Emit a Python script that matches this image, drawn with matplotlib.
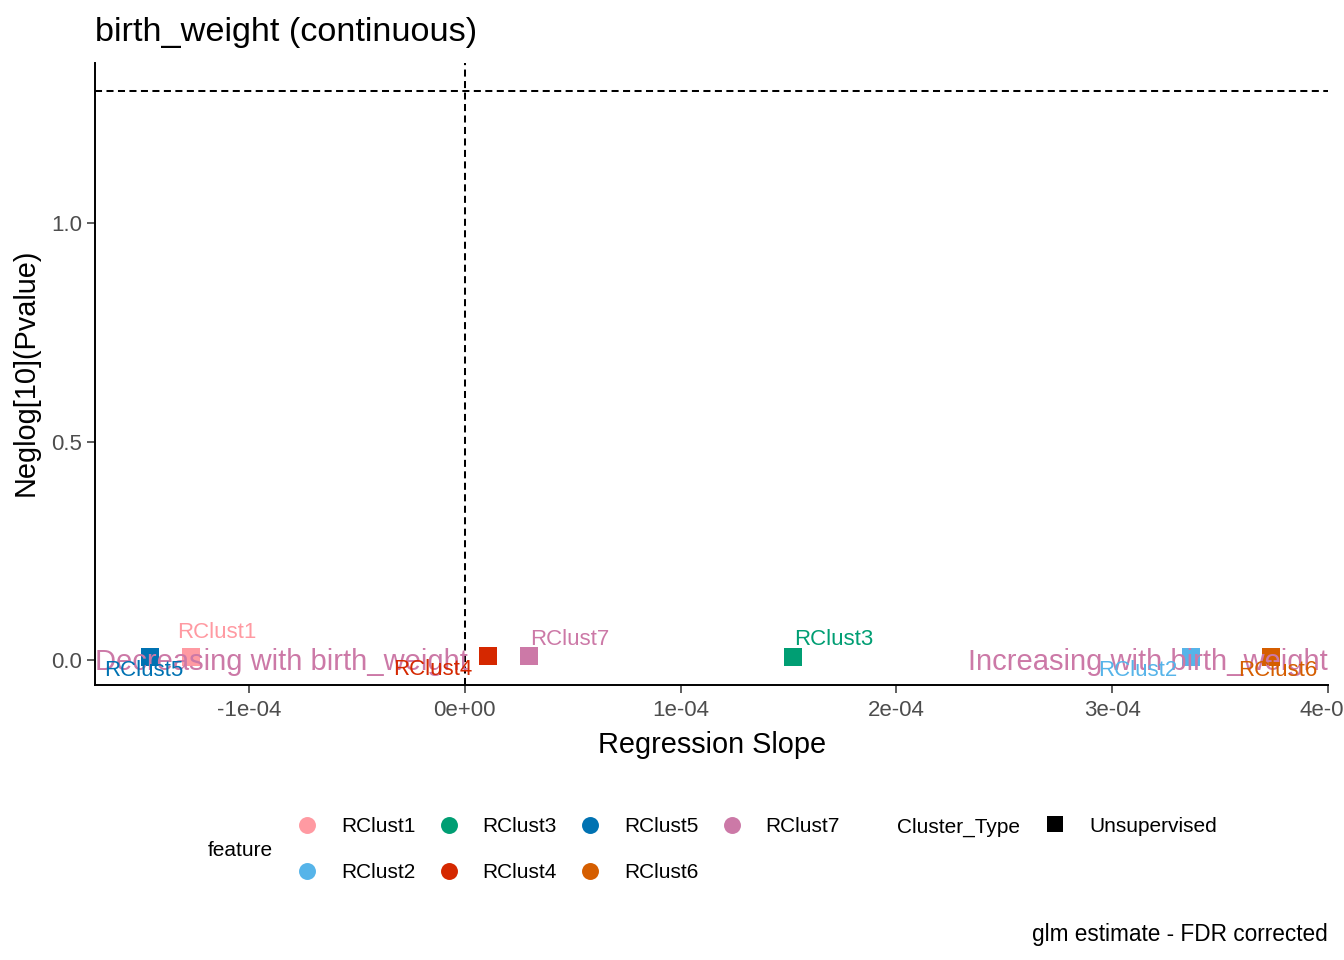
import numpy as np
import matplotlib
matplotlib.use('Agg')
import matplotlib.pyplot as plt
from matplotlib.lines import Line2D

plt.rcParams['font.family'] = ['Liberation Sans', 'DejaVu Sans']

# data
features = ['RClust1', 'RClust2', 'RClust3', 'RClust4', 'RClust5', 'RClust6', 'RClust7']
slopes = [-1.268e-4, 3.366e-4, 1.523e-4, 0.106e-4, -1.458e-4, 3.736e-4, 0.30e-4]
neglogp = [0.007, 0.007, 0.008, 0.009, 0.006, 0.007, 0.009]
colours = ['#FF9AA2', '#56B4E9', '#009E73', '#D52800', '#0072B2', '#D55E00', '#CC79A7']
# repel label offsets (pixels)
label_dx = [26, -53, 40, -55, -6, 7, 40]
label_dy = [-25, 13, -17, 13, 13, 13, -17]

xticks = [-1e-4, 0, 1e-4, 2e-4, 3e-4, 4e-4]
xticklabels = ['-1e-04', '0e+00', '1e-04', '2e-04', '3e-04', '4e-04']
yticks = [0.0, 0.5, 1.0]
yticklabels = ['0.0', '0.5', '1.0']
cutoff = -np.log10(0.05)

W, H = 1344, 960
fig = plt.figure(figsize=(W / 100, H / 100), dpi=100)
ax = fig.add_axes([95 / W, 1 - 685 / H, (1328 - 95) / W, (685 - 63) / H])

def px(x, y):
    return x / W, 1 - y / H

ax.axvline(0, color='black', lw=1.45, dashes=(3.5, 2.2), zorder=1)
ax.axhline(cutoff, color='black', lw=1.45, dashes=(3.5, 2.2), zorder=1)

for f, xv, yv, c in zip(features, slopes, neglogp, colours):
    ax.plot(xv, yv, marker='s', ms=13, color=c, mew=0, ls='none', zorder=3)

trans = ax.get_yaxis_transform()
ax.text(0.0, -0.004, 'Decreasing with birth_weight', transform=trans, ha='left', va='center',
        fontsize=21.0, color='#CC79A7', zorder=4)
ax.text(1.0, -0.004, 'Increasing with birth_weight', transform=trans, ha='right', va='center',
        fontsize=21.0, color='#CC79A7', zorder=4)

for f, xv, yv, c, dx, dy in zip(features, slopes, neglogp, colours, label_dx, label_dy):
    ax.annotate(f, (xv, yv), xytext=(dx * 0.72, -dy * 0.72), textcoords='offset points',
                ha='center', va='center', fontsize=16, color=c, zorder=5)

ax.set_xlim(-1.713e-4, 3.995e-4)
ax.set_ylim(-0.057, 1.366)
ax.set_xticks(xticks)
ax.set_xticklabels(xticklabels)
ax.set_yticks(yticks)
ax.set_yticklabels(yticklabels)
ax.tick_params(axis='both', length=6, width=1.1, color='#333333', labelsize=16,
               labelcolor='#4D4D4D')
ax.tick_params(axis='x', pad=5)
ax.tick_params(axis='y', pad=3)
for s in ['top', 'right']:
    ax.spines[s].set_visible(False)
for s in ['left', 'bottom']:
    ax.spines[s].set_linewidth(1.4)
    ax.spines[s].set_color('black')

fig.text(*px(95, 41), 'birth_weight (continuous)', fontsize=24.7, ha='left', va='baseline')
fig.text(*px(712, 745), 'Regression Slope', fontsize=20.8, ha='center', va='center')
fig.text(*px(26, 372), 'Neglog[10](Pvalue)', fontsize=20.8, ha='center', va='center',
         rotation=90)
fig.text(*px(1328, 935), 'glm estimate - FDR corrected', fontsize=16.3, ha='right',
         va='center')

# legend: feature
fig.text(*px(208, 851), 'feature', fontsize=15, ha='left', va='center')
for i, (f, c) in enumerate(zip(features, colours)):
    col, row = i // 2, i % 2
    kx, ky = 307 + 141.5 * col, 825 + 46 * row
    fig.add_artist(Line2D([kx / W], [1 - ky / H], marker='o', ms=12.2, color=c, mew=0,
                          ls='none', transform=fig.transFigure))
    fig.text(*px(kx + 34, ky + 2), f, fontsize=15, ha='left', va='center')

# legend: Cluster_Type
fig.text(*px(897, 827), 'Cluster_Type', fontsize=15, ha='left', va='center')
fig.add_artist(Line2D([1055 / W], [1 - 824 / H], marker='s', ms=12, color='black', mew=0,
                      ls='none', transform=fig.transFigure))
fig.text(*px(1089, 827), 'Unsupervised', fontsize=15, ha='left', va='center')

fig.savefig('out.png', dpi=100, facecolor='white')
